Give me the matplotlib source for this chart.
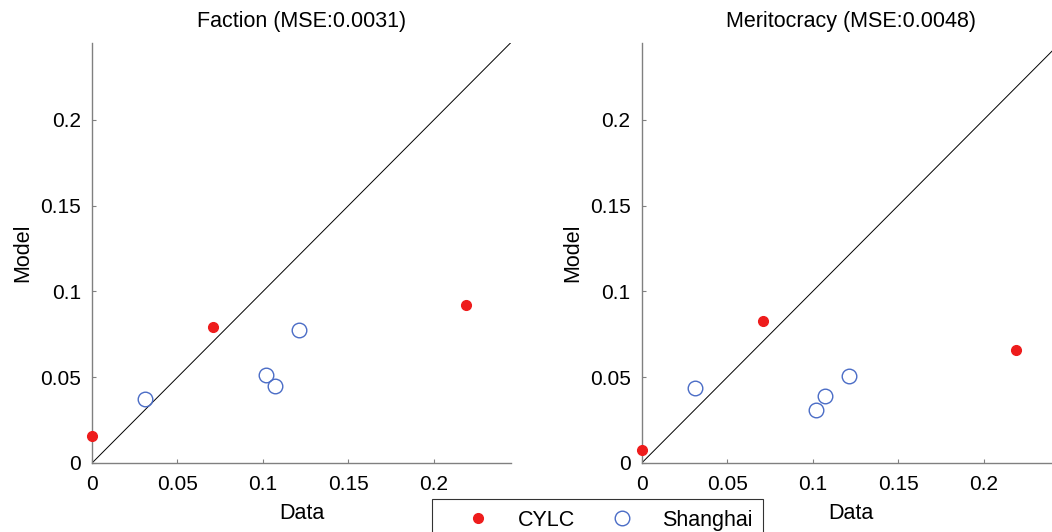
import matplotlib.pyplot as plt

plt.rcParams['font.family'] = ['Liberation Sans', 'DejaVu Sans']

# data
cylc_data = [0.0, 0.071, 0.219]
shanghai_data = [0.031, 0.102, 0.107, 0.121]

faction_cylc = [0.0157, 0.0794, 0.0921]
faction_shanghai = [0.0374, 0.0513, 0.0447, 0.0775]

merit_cylc = [0.0077, 0.0829, 0.0659]
merit_shanghai = [0.0436, 0.0308, 0.0391, 0.0508]

titles = ["Faction (MSE:0.0031)", "Meritocracy (MSE:0.0048)"]
ticks = [0, 0.05, 0.1, 0.15, 0.2]
tick_labels = ["0", "0.05", "0.1", "0.15", "0.2"]
lim = 0.245

fig = plt.figure(figsize=(10.52, 5.32), dpi=100)
ax1 = fig.add_axes([0.0875, 0.1297, 0.398, 0.790])
ax2 = fig.add_axes([0.610, 0.1297, 0.398, 0.790])

panels = [(ax1, faction_cylc, faction_shanghai), (ax2, merit_cylc, merit_shanghai)]
for i, (ax, cy, sh) in enumerate(panels):
    ax.plot([0, lim], [0, lim], color='black', lw=0.7, zorder=1)
    h1, = ax.plot(cylc_data, cy, 'o', color='#ee1c1c', ms=7, mec='#ee1c1c',
                  ls='none', clip_on=False, zorder=3, label='CYLC')
    h2, = ax.plot(shanghai_data, sh, 'o', mfc='none', mec='#4a6cc6', ms=10.5,
                  mew=1.0, ls='none', clip_on=False, zorder=3, label='Shanghai')
    ax.set_xlim(0, lim)
    ax.set_ylim(0, lim)
    ax.set_xticks(ticks)
    ax.set_xticklabels(tick_labels)
    ax.set_yticks(ticks)
    ax.set_yticklabels(tick_labels)
    ax.tick_params(direction='in', length=3, width=0.8, color='#808080',
                   labelsize=15)
    ax.tick_params(axis='x', pad=9)
    ax.tick_params(axis='y', pad=8)
    for s in ['top', 'right']:
        ax.spines[s].set_visible(False)
    for s in ['left', 'bottom']:
        ax.spines[s].set_color('#808080')
        ax.spines[s].set_linewidth(1.0)
    ax.set_xlabel("Data", fontsize=15.5, labelpad=6)
    ax.set_ylabel("Model", fontsize=15.5, labelpad=5)
    ax.set_title(titles[i], fontsize=15.5, pad=11)

leg = fig.legend(handles=[h1, h2], loc='upper left', bbox_to_anchor=(0.4106, 0.062),
                 ncol=2, fontsize=15.5, frameon=True, fancybox=False,
                 handlelength=3.27, handletextpad=0.22, columnspacing=0.55,
                 borderpad=0.5, borderaxespad=0)
leg.get_frame().set_edgecolor('black')
leg.get_frame().set_linewidth(0.8)

fig.savefig('out.png', dpi=100)
